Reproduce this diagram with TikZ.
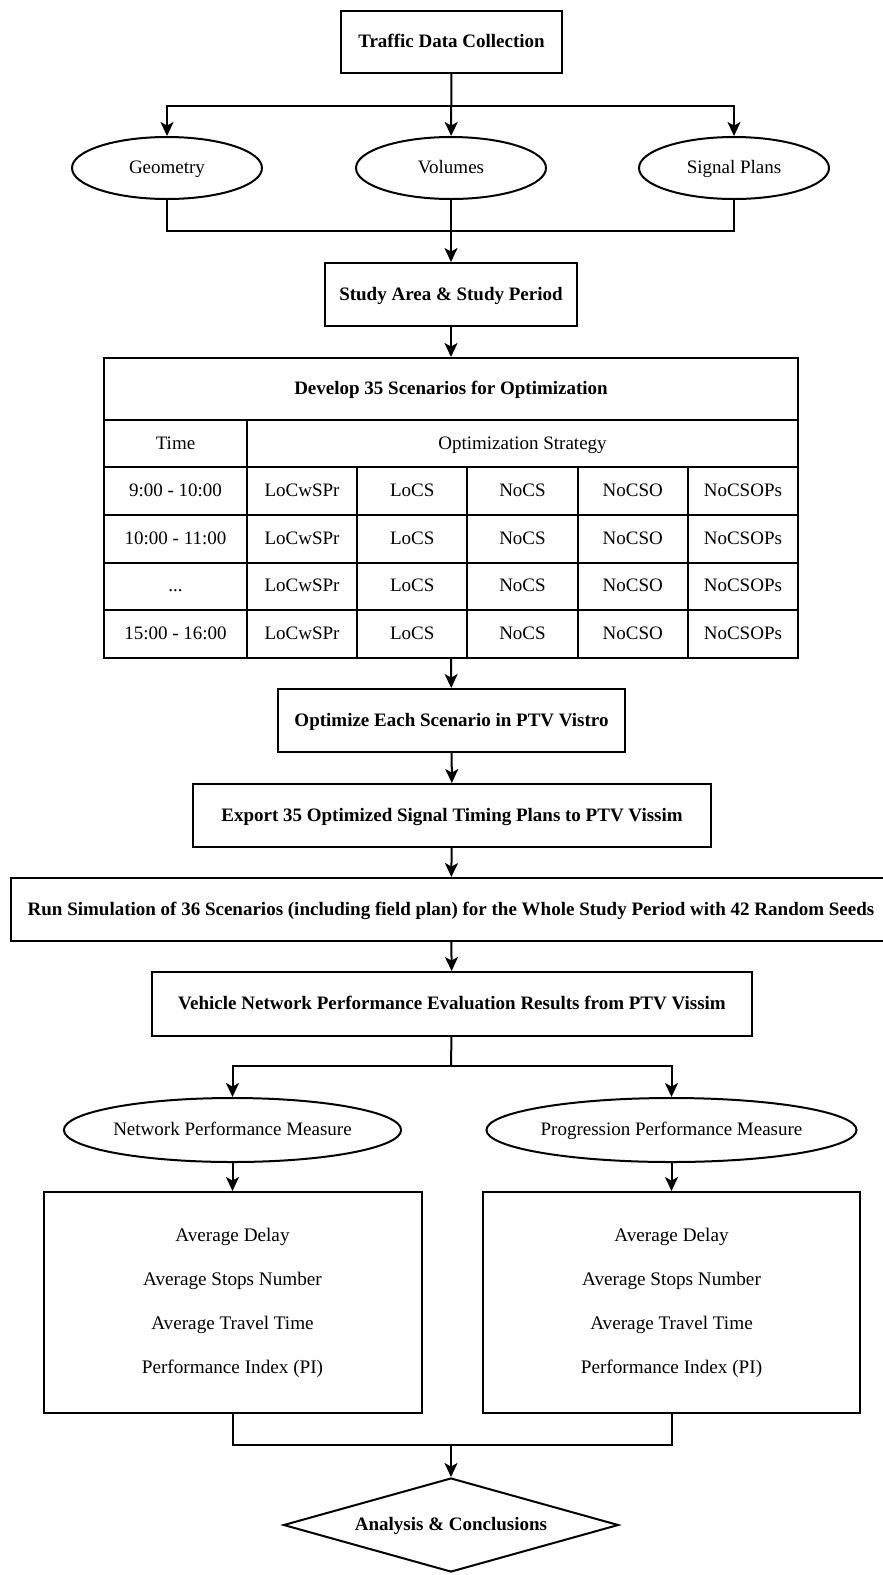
\documentclass[tikz,border=0pt]{standalone}
\usepackage{fontspec}
\setmainfont{Liberation Serif}
\usetikzlibrary{shapes.geometric}
\usetikzlibrary{arrows.meta,positioning}

\begin{document}
\begin{tikzpicture}[x=0.5pt,y=-0.5pt,line width=1pt,>={Stealth[length=7pt,width=6.5pt,inset=1.8pt]}]%
\useasboundingbox (0,0) rectangle (883,1575);
\tikzstyle{titlebox}=[draw,rectangle,inner sep=0pt,text height=1.6ex,text depth=.4ex,font=\fontsize{9.5}{11}\selectfont\bfseries];%%
\tikzstyle{oval}=[draw,ellipse,inner sep=0pt,text height=1.6ex,text depth=.4ex,font=\fontsize{9.5}{11}\selectfont];%%
\tikzstyle{cell}=[draw,rectangle,inner sep=0pt,text height=1.6ex,text depth=.4ex,font=\fontsize{9.5}{11}\selectfont];%%
\tikzstyle{listbox}=[draw,rectangle,inner sep=0pt,align=center,font=\fontsize{9.6}{22}\selectfont];%%
\def\tdots{...}
        % flow boxes
        \node[titlebox,minimum width=110.5pt,minimum height=31pt] (tdc) at (451.5,42) {Traffic Data Collection}; %%
        \node[oval,minimum width=95pt,minimum height=31pt] (geo) at (167,168) {Geometry}; %%
        \node[oval,minimum width=95pt,minimum height=31pt] (vol) at (451,168) {Volumes}; %%
        \node[oval,minimum width=95pt,minimum height=31pt] (sig) at (734,168) {Signal Plans}; %%
        \node[titlebox,minimum width=126pt,minimum height=31.5pt] (study) at (451,294.5) {Study Area \& Study Period}; %%
        \node[titlebox,minimum width=173.5pt,minimum height=31.5pt] (opt) at (451.5,720.5) {Optimize Each Scenario in PTV Vistro}; %%
        \node[titlebox,minimum width=259pt,minimum height=31.5pt] (exp) at (452,815.5) {Export 35 Optimized Signal Timing Plans to PTV Vissim}; %%
        \node[titlebox,minimum width=440pt,minimum height=31.5pt] (run) at (451,909.5) {Run Simulation of 36 Scenarios (including field plan) for the Whole Study Period with 42 Random Seeds}; %%
        \node[titlebox,minimum width=300pt,minimum height=32pt] (veh) at (452,1004) {Vehicle Network Performance Evaluation Results from PTV Vissim}; %%
        \node[oval,minimum width=145pt,minimum height=32pt] (npm) at (232.5,1130) {Network Performance Measure}; %%
        \node[oval,minimum width=145pt,minimum height=32pt] (ppm) at (671.5,1130) {Progression Performance Measure}; %%
        \node[listbox,minimum width=189pt,minimum height=110.5pt] (lbox) at (232.5,1302.5) {Average Delay\\Average Stops Number\\Average Travel Time\\Performance Index (PI)}; %%
        \node[listbox,minimum width=188.5pt,minimum height=110.5pt] (rbox) at (671.5,1302.5) {Average Delay\\Average Stops Number\\Average Travel Time\\Performance Index (PI)}; %%
        \node[titlebox,diamond,aspect=3.56,minimum width=167.5pt,minimum height=47pt] (diam) at (451,1525) {Analysis \& Conclusions}; %%
        % scenario table
        \node[titlebox,minimum width=347pt,minimum height=31pt] (ttl) at (451,389) {Develop 35 Scenarios for Optimization}; %%
        \node[cell,minimum width=71.5pt,minimum height=23.5pt] (time) at (175.5,443.5) {Time}; %%
        \node[cell,minimum width=275.5pt,minimum height=23.5pt] (strat) at (522.5,443.5) {Optimization Strategy}; %%
        \foreach \t [count=\r] in {9:00 - 10:00,10:00 - 11:00,\tdots,15:00 - 16:00}{
            \node[cell,minimum width=71.5pt,minimum height=23.875pt] (t\r) at (175.5,{443.125+47.75*\r}) {\t};
            \foreach \s [count=\c] in {LoCwSPr,LoCS,NoCS,NoCSO,NoCSOPs}
                \node[cell,minimum width=55.1pt,minimum height=23.875pt] (c\r-\c) at ({191.9+110.2*\c},{443.125+47.75*\r}) {\s};
        }
        \coordinate (split1) at (451,106); %%
        \coordinate (merge1) at (451,231); %%
        \coordinate (tbot) at (451,658); %%
        \coordinate (split2) at (451,1066); %%
        \coordinate (merge2) at (451,1445); %%
        % connectors
        \draw[->] (tdc) -- (vol); %%
        \draw[->] (split1) -| (geo); %%
        \draw[->] (split1) -| (sig); %%
        \draw (geo.south) |- (merge1); %%
        \draw (sig.south) |- (merge1); %%
        \draw[->] (vol) -- (study); %%
        \draw[->] (study) -- (ttl); %%
        \draw[->] (tbot) -- (opt); %%
        \draw[->] (opt) -- (exp); %%
        \draw[->] (exp) -- (run); %%
        \draw[->] (run) -- (veh); %%
        \draw (veh) -- (split2); %%
        \draw[->] (split2) -| (npm); %%
        \draw[->] (split2) -| (ppm); %%
        \draw[->] (npm) -- (lbox); %%
        \draw[->] (ppm) -- (rbox); %%
        \draw (lbox.south) |- (merge2); %%
        \draw (rbox.south) |- (merge2); %%
        \draw[->] (merge2) -- (diam); %%
\end{tikzpicture}
\end{document}
